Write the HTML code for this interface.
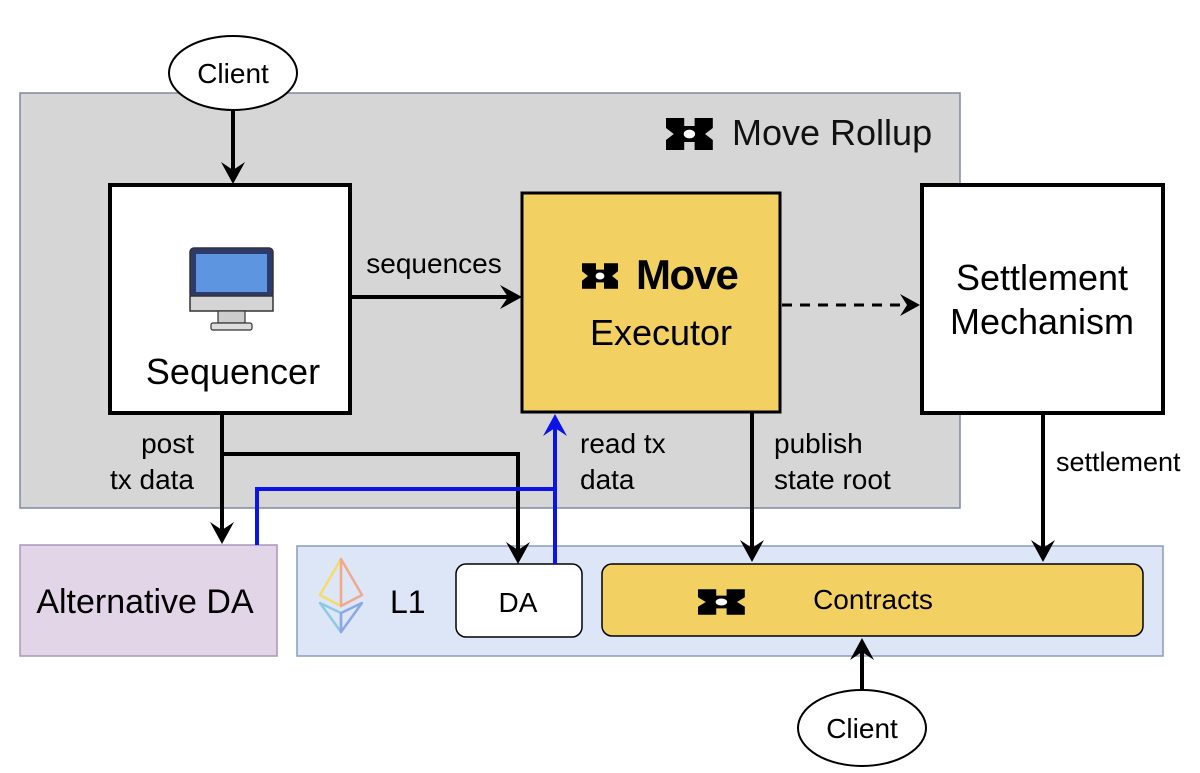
<!DOCTYPE html>
<html><head><meta charset="utf-8"><style>
html,body{margin:0;padding:0;background:#fff;}
svg{display:block;font-family:"Liberation Sans",Arial,sans-serif;}
</style></head><body>
<svg width="1200" height="773" viewBox="0 0 1200 773" xmlns="http://www.w3.org/2000/svg">
<defs>
<g id="logo">
<path d="M0,2 h7 v4 h4 v-4 h7 v5 l-3,3 l3,3 v5 h-7 v-4 h-4 v4 h-7 v-5 l3,-3 l-3,-3z" fill="#000"/>
<circle cx="9" cy="10" r="2.2" fill="#fff"/>
</g>
</defs>
<rect width="1200" height="773" fill="#fff"/>
<rect x="20" y="93" width="940" height="415" fill="#d6d6d6" stroke="#7d8aa3" stroke-width="1.5"/>
<use href="#logo" transform="translate(666,114) scale(2.6,2)"/>
<text x="732" y="145" font-size="36" fill="#111">Move Rollup</text>

<ellipse cx="233" cy="73" rx="64" ry="37" fill="#fff" stroke="#000" stroke-width="2"/>
<text x="233" y="83" font-size="28" text-anchor="middle">Client</text>
<line x1="233" y1="110" x2="233" y2="170" stroke="#000" stroke-width="4"/>
<path d="M221,162 L233,184 L245,162 L233,170z" fill="#000"/>

<rect x="110" y="185" width="240" height="228" fill="#fff" stroke="#000" stroke-width="4"/>
<rect x="190" y="248" width="83" height="50" rx="4" fill="#2d3b6a" stroke="#333" stroke-width="1.5"/>
<rect x="196" y="254" width="71" height="38" fill="#5e95e0"/>
<rect x="190" y="296" width="83" height="15" fill="#d4d4d4" stroke="#333" stroke-width="1.5"/>
<rect x="218" y="311" width="27" height="12" fill="#ccc" stroke="#333" stroke-width="1.2"/>
<rect x="211" y="323" width="41" height="7" rx="2" fill="#ddd" stroke="#333" stroke-width="1.2"/>
<text x="233" y="384" font-size="36" text-anchor="middle">Sequencer</text>

<text x="434" y="273" font-size="28" text-anchor="middle">sequences</text>
<line x1="350" y1="297" x2="508" y2="297" stroke="#000" stroke-width="4"/>
<path d="M500,285 L522,297 L500,309 L508,297z" fill="#000"/>

<rect x="522" y="193" width="258" height="219" fill="#f2d062" stroke="#000" stroke-width="3"/>
<use href="#logo" transform="translate(582,260) scale(2,1.6)"/>
<text x="636" y="289" font-size="42" font-weight="bold" letter-spacing="-1.5">Move</text>
<text x="661" y="345" font-size="36" text-anchor="middle">Executor</text>

<line x1="782" y1="305" x2="906" y2="305" stroke="#000" stroke-width="3" stroke-dasharray="10,8"/>
<path d="M900,294 L920,305 L900,316 L907,305z" fill="#000"/>

<rect x="922" y="185" width="241" height="228" fill="#fff" stroke="#000" stroke-width="4"/>
<text x="1042" y="290" font-size="36" text-anchor="middle">Settlement</text>
<text x="1042" y="334" font-size="36" text-anchor="middle">Mechanism</text>

<rect x="20" y="545" width="257" height="111" fill="#e2d5e7" stroke="#a997b9" stroke-width="1.5"/>
<text x="145" y="613" font-size="34" text-anchor="middle">Alternative DA</text>

<rect x="297" y="546" width="866" height="110" fill="#dde6f7" stroke="#8a9bbd" stroke-width="1.5"/>
<g fill="none" stroke-width="2.5" stroke-linejoin="round">
<path d="M341,559 L320,595 L341,606z" stroke="#f4dc6a"/>
<path d="M341,559 L362,595 L341,606z" stroke="#f0a98c"/>
<path d="M320,603 L341,632 L341,613z" stroke="#8fc8e6"/>
<path d="M362,603 L341,632 L341,613z" stroke="#8aa8e6"/>
</g>
<text x="390" y="613" font-size="32">L1</text>
<rect x="456" y="564" width="126" height="73" rx="10" fill="#fff" stroke="#000" stroke-width="1.5"/>
<text x="518" y="612" font-size="28" text-anchor="middle">DA</text>
<rect x="602" y="564" width="541" height="72" rx="10" fill="#f2d062" stroke="#000" stroke-width="1.5"/>
<use href="#logo" transform="translate(698,586) scale(2.6,1.6)"/>
<text x="873" y="609" font-size="28" text-anchor="middle">Contracts</text>

<text x="194" y="453" font-size="28" text-anchor="end">post</text>
<text x="194" y="489" font-size="28" text-anchor="end">tx data</text>
<line x1="222" y1="413" x2="222" y2="530" stroke="#000" stroke-width="4"/>
<path d="M210,522 L222,544 L234,522 L222,530z" fill="#000"/>
<polyline points="222,454 518,454 518,550" fill="none" stroke="#000" stroke-width="4"/>
<path d="M506,542 L518,564 L530,542 L518,550z" fill="#000"/>

<polyline points="257,545 257,489 555,489" fill="none" stroke="#0a14e6" stroke-width="4"/>
<line x1="555" y1="564" x2="555" y2="428" stroke="#0a14e6" stroke-width="4"/>
<path d="M543,436 L555,414 L567,436 L555,428z" fill="#0a14e6"/>
<text x="580" y="453" font-size="28">read tx</text>
<text x="580" y="489" font-size="28">data</text>

<line x1="752" y1="412" x2="752" y2="548" stroke="#000" stroke-width="4"/>
<path d="M740,540 L752,562 L764,540 L752,548z" fill="#000"/>
<text x="774" y="453" font-size="28">publish</text>
<text x="774" y="489" font-size="28">state root</text>

<line x1="1043" y1="413" x2="1043" y2="548" stroke="#000" stroke-width="4"/>
<path d="M1031,540 L1043,562 L1055,540 L1043,548z" fill="#000"/>
<text x="1056" y="471" font-size="27">settlement</text>

<line x1="862" y1="690" x2="862" y2="652" stroke="#000" stroke-width="4"/>
<path d="M850,660 L862,638 L874,660 L862,652z" fill="#000"/>
<ellipse cx="862" cy="728" rx="64" ry="38" fill="#fff" stroke="#000" stroke-width="2"/>
<text x="862" y="738" font-size="28" text-anchor="middle">Client</text>
</svg>
</body></html>
